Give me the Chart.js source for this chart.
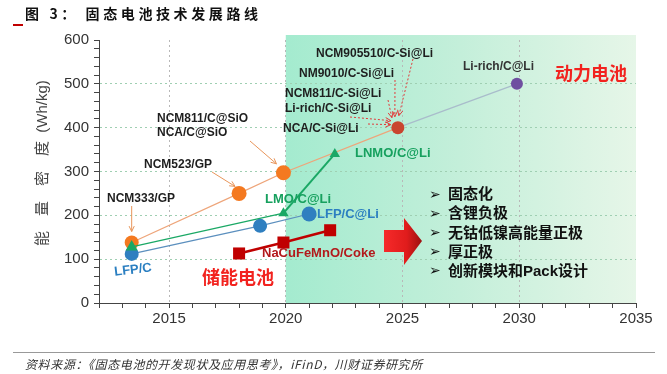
<!DOCTYPE html>
<html>
<head>
<meta charset="utf-8">
<script src="https://cdn.jsdelivr.net/npm/chart.js@4.4.0/dist/chart.umd.min.js"></script>
<style>
html, body { margin: 0; padding: 0; background: #fff; }
body { width: 667px; height: 374px; position: relative; overflow: hidden; }
#caja { position: absolute; left: 0; top: 0; width: 667px; height: 374px; }
#titulo { position: absolute; left: 25px; top: 3px; font: 700 14px 'Noto Sans CJK SC'; letter-spacing: 3.6px; color: #111; line-height: 20px; }
#marca { position: absolute; left: 13px; top: 24px; width: 10px; height: 2px; background: #c00000; }
#linea { position: absolute; left: 13px; top: 352px; width: 642px; height: 1px; background: #999; }
#fuente { position: absolute; left: 25px; top: 356px; font: italic 12px 'Noto Sans CJK SC'; letter-spacing: 0.6px; color: #333; line-height: 16px; }
</style>
</head>
<body>
<div id="caja"><canvas id="grafica"></canvas></div>
<div id="titulo">图 3：&nbsp;固态电池技术发展路线</div>
<div id="marca"></div>
<div id="linea"></div>
<div id="fuente">资料来源：《固态电池的开发现状及应用思考》，iFinD，川财证券研究所</div>
<script>
// datos
const lfpAnios = [2013.4, 2018.9, 2021.0];
const lfpValores = [112, 176, 203];
const lmoAnios = [2013.4, 2019.9, 2022.1];
const lmoValores = [128, 205, 340];
const ncmAnios = [2013.4, 2018.0, 2019.9, 2024.8, 2029.9];
const ncmValores = [138, 250, 297, 400, 500];
const naAnios = [2018.0, 2019.9, 2021.9];
const naValores = [113, 138, 166];

const xMin = 2012, xMax = 2035, zonaDesde = 2020;
const yMin = 0, yMax = 600;

const etiquetasNcm = ['NCM333/GP', 'NCM523/GP', 'NCM811/C@SiO', 'NCA/C@SiO'];
const etiquetasSi = ['NCM905510/C-Si@Li', 'NM9010/C-Si@Li', 'NCM811/C-Si@Li', 'Li-rich/C-Si@Li', 'NCA/C-Si@Li'];
const tendencias = ['固态化', '含锂负极', '无钴低镍高能量正极', '厚正极', '创新模块和Pack设计'];

const fuenteLat = "'Liberation Sans', Arial, 'Noto Sans CJK SC', sans-serif";
const fuenteCjk = "'Liberation Sans', 'Noto Sans CJK SC', sans-serif";

function texto(ctx, s, x, y, color, font, rot) {
  ctx.save();
  ctx.fillStyle = color;
  ctx.font = font;
  ctx.textBaseline = 'middle';
  ctx.textAlign = rot ? 'center' : 'left';
  ctx.translate(x, y);
  if (rot) ctx.rotate(rot);
  ctx.fillText(s, 0, 0);
  ctx.restore();
}

function flecha(ctx, x1, y1, x2, y2, color, dash) {
  ctx.save();
  ctx.strokeStyle = color;
  ctx.lineWidth = 1;
  ctx.setLineDash(dash || []);
  ctx.beginPath();
  ctx.moveTo(x1, y1);
  ctx.lineTo(x2, y2);
  ctx.stroke();
  ctx.setLineDash([]);
  const a = Math.atan2(y2 - y1, x2 - x1), h = 6;
  ctx.beginPath();
  ctx.moveTo(x2 - h * Math.cos(a - 0.45), y2 - h * Math.sin(a - 0.45));
  ctx.lineTo(x2, y2);
  ctx.lineTo(x2 - h * Math.cos(a + 0.45), y2 - h * Math.sin(a + 0.45));
  ctx.stroke();
  ctx.restore();
}

const notas = {
  id: 'notas',
  beforeDraw(chart) {
    const { ctx, chartArea, scales: { x } } = chart;
    const x0 = x.getPixelForValue(zonaDesde), x1 = chartArea.right;
    const top = chartArea.top - 5, bottom = chartArea.bottom;
    const g = ctx.createLinearGradient(x0, 0, x1, 0);
    g.addColorStop(0, '#a4ebcf');
    g.addColorStop(0.5, '#c4efda');
    g.addColorStop(1, '#e6f6e8');
    ctx.save();
    ctx.fillStyle = g;
    ctx.fillRect(x0, top, x1 - x0, bottom - top);
    ctx.restore();
  },
  afterDatasetsDraw(chart) {
    const { ctx, scales: { x, y } } = chart;
    const p = (anios, vals, i) => [x.getPixelForValue(anios[i]), y.getPixelForValue(vals[i])];
    const negro = '#1e1e1e', verde = '#16a05e', azul = '#2b7fc1';
    const f12 = 'bold 12px ' + fuenteLat, f13 = 'bold 13px ' + fuenteLat;
    const naranja = '#e8955a', rojo = '#e23a3a';

    // etiquetas NCM / NCA
    texto(ctx, etiquetasNcm[0], 107, 199, negro, f12);
    texto(ctx, etiquetasNcm[1], 144, 165, negro, f12);
    texto(ctx, etiquetasNcm[2], 157, 119, negro, f12);
    texto(ctx, etiquetasNcm[3], 157, 133, negro, f12);
    let q = p(ncmAnios, ncmValores, 0);
    flecha(ctx, q[0], 206, q[0], q[1] - 11, naranja);
    q = p(ncmAnios, ncmValores, 1);
    flecha(ctx, 212, 172, q[0] - 4, q[1] - 7, naranja);
    q = p(ncmAnios, ncmValores, 2);
    flecha(ctx, 250, 141, q[0] - 7, q[1] - 9, naranja);

    // etiquetas C-Si@Li hacia el punto de 400
    const sal = [[316, 54], [299, 74], [285, 94], [285, 109], [283, 129]];
    etiquetasSi.forEach((s, i) => texto(ctx, s, sal[i][0], sal[i][1], negro, f12));
    q = p(ncmAnios, ncmValores, 3);
    const desde = [[413, 59], [395, 80], [388, 100], [350, 117], [368, 124]];
    const hasta = [[1, -12], [-3, -11], [-6, -10], [-7, -7], [-7, -3]];
    desde.forEach((d, i) => flecha(ctx, d[0], d[1], q[0] + hasta[i][0], q[1] + hasta[i][1], rojo, [2, 2]));

    texto(ctx, 'Li-rich/C@Li', 463, 67, '#333', 'bold 12px ' + fuenteLat);
    texto(ctx, '动力电池', 555, 75, '#f2231f', 'bold 18px ' + fuenteCjk);
    texto(ctx, '储能电池', 202, 279, '#f2231f', 'bold 18px ' + fuenteCjk);

    texto(ctx, 'LMO/C@Li', 265, 199, verde, f13);
    texto(ctx, 'LNMO/C@Li', 355, 153, verde, f13);
    texto(ctx, 'LFP/C@Li', 317, 214, azul, f13);
    texto(ctx, 'LFP/C', 133, 270, azul, f13, -0.12);
    texto(ctx, 'NaCuFeMnO/Coke', 262, 253, '#b3191b', f13);

    // flecha roja grande
    const g = ctx.createLinearGradient(384, 0, 422, 0);
    g.addColorStop(0, '#f62a2a');
    g.addColorStop(0.6, '#e01c1c');
    g.addColorStop(1, '#9a1010');
    ctx.save();
    ctx.fillStyle = g;
    ctx.beginPath();
    ctx.moveTo(384, 230);
    ctx.lineTo(404, 230);
    ctx.lineTo(404, 218);
    ctx.lineTo(422, 241);
    ctx.lineTo(404, 265);
    ctx.lineTo(404, 252);
    ctx.lineTo(384, 252);
    ctx.closePath();
    ctx.fill();
    ctx.restore();

    // lista de tendencias
    tendencias.forEach((s, i) => {
      const yy = 195 + i * 19.2;
      texto(ctx, '➢', 429, yy, '#111', 'bold 14px "DejaVu Sans"');
      texto(ctx, s, 448, yy, '#111', 'bold 15px ' + fuenteCjk);
    });
  }
};

const puntos = (anios, vals) => anios.map((a, i) => ({ x: a, y: vals[i] }));

new Chart(document.getElementById('grafica'), {
  type: 'scatter',
  data: {
    datasets: [
      {
        label: 'LMO',
        data: puntos(lmoAnios, lmoValores),
        showLine: true,
        borderColor: '#1aa865',
        backgroundColor: '#1aa865',
        borderWidth: 1.2,
        segment: { borderWidth: c => c.p0DataIndex === 1 ? 2 : 1.2 },
        pointStyle: 'triangle',
        pointRadius: [7, 6, 6],
        pointBorderWidth: 0
      },
      {
        label: 'NCM',
        data: puntos(ncmAnios, ncmValores),
        showLine: true,
        borderColor: '#eea57a',
        borderWidth: 1.2,
        segment: { borderColor: c => c.p0DataIndex === 3 ? '#a9bccb' : '#eea57a' },
        backgroundColor: ['#f47920', '#f47920', '#f47920', '#c9452f', '#6f4fa0'],
        pointRadius: [7, 7.5, 7.5, 6.5, 6],
        pointBorderWidth: 0
      },
      {
        label: 'LFP',
        data: puntos(lfpAnios, lfpValores),
        showLine: true,
        borderColor: '#5b8fbe',
        borderWidth: 1.2,
        backgroundColor: '#2f7fc0',
        pointRadius: [7, 7, 7.5],
        pointBorderWidth: 0
      },
      {
        label: 'Na',
        data: puntos(naAnios, naValores),
        showLine: true,
        borderColor: '#c00000',
        borderWidth: 2.5,
        backgroundColor: '#c00000',
        pointStyle: 'rect',
        pointRadius: 8.5,
        pointBorderWidth: 0
      }
    ]
  },
  options: {
    responsive: true,
    maintainAspectRatio: false,
    animation: false,
    layout: { padding: { left: 0, top: 40, right: 31, bottom: 34 } },
    plugins: { legend: { display: false }, tooltip: { enabled: false } },
    scales: {
      x: {
        type: 'linear',
        min: xMin,
        max: xMax,
        afterFit: s => { s.height = 37; },
        border: { display: true, color: '#444', width: 1, dash: [2, 3] },
        grid: {
          color: c => (c.tick && c.tick.value % 5 === 0 && c.tick.value < xMax) ? '#b8b8b8' : 'transparent',
          tickColor: '#444',
          tickLength: 5,
          lineWidth: 1
        },
        ticks: {
          stepSize: 1,
          autoSkip: false,
          maxRotation: 0,
          padding: 2,
          color: '#333',
          font: { family: fuenteLat, size: 15 },
          callback: v => v % 5 === 0 ? String(v) : ''
        }
      },
      y: {
        min: yMin,
        max: yMax,
        afterFit: s => { s.width = 99; },
        border: { display: true, color: '#444', width: 1, dash: [2, 3] },
        grid: {
          color: c => (c.tick && c.tick.value % 100 === 0 && c.tick.value > yMin && c.tick.value < yMax) ? '#9fcfb2' : 'transparent',
          tickColor: '#444',
          tickLength: 5,
          lineWidth: 1
        },
        ticks: {
          stepSize: 20,
          autoSkip: false,
          padding: 5,
          color: '#333',
          font: { family: fuenteLat, size: 15 },
          callback: v => v % 100 === 0 ? String(v) : ''
        },
        title: {
          display: true,
          text: '    能　量　密　度  (Wh/kg)',
          color: '#444',
          font: { family: fuenteCjk, size: 15 },
          padding: { top: 34, bottom: 0 }
        }
      }
    }
  },
  plugins: [notas]
});
</script>
</body>
</html>
